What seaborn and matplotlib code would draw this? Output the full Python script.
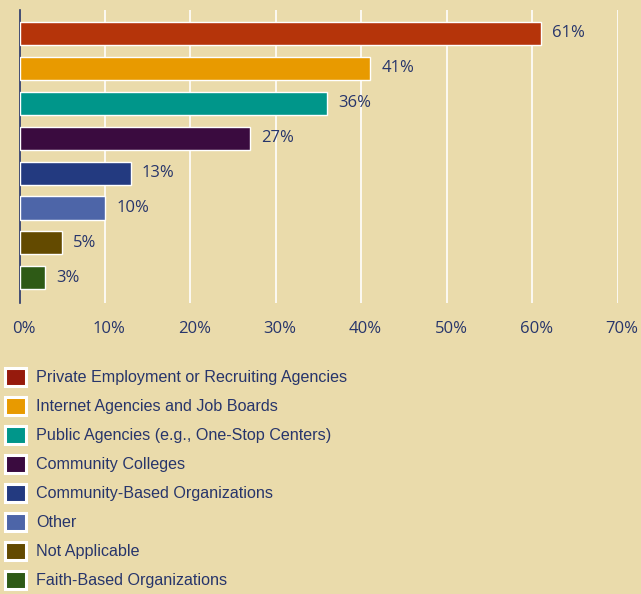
import matplotlib
matplotlib.use("Agg")
import matplotlib.pyplot as plt
import matplotlib.transforms as mtransforms
from matplotlib.patches import Patch
import pandas as pd
import seaborn as sns

# chart data
categories = [
    "Private Employment or Recruiting Agencies",
    "Internet Agencies and Job Boards",
    "Public Agencies (e.g., One-Stop Centers)",
    "Community Colleges",
    "Community-Based Organizations",
    "Other",
    "Not Applicable",
    "Faith-Based Organizations",
]
percentages = [61, 41, 36, 27, 13, 10, 5, 3]
bar_colors = ["#B5340A", "#E89A00", "#00968A", "#3A0B3F",
              "#233A80", "#4D65A8", "#634A00", "#2E5A16"]
legend_colors = ["#961A0C", "#E89A00", "#00968A", "#3A0B3F",
                 "#233A80", "#4D65A8", "#634A00", "#2E5A16"]
xticks = [0, 10, 20, 30, 40, 50, 60, 70]

BG = "#EADBAB"
NAVY = "#27356B"

sns.set_theme(style="white")
plt.rcParams["font.family"] = ["Open Sans", "DejaVu Sans"]

df = pd.DataFrame({"category": categories, "pct": percentages})

fig = plt.figure(figsize=(6.41, 5.94), dpi=100, facecolor=BG)
ax = fig.add_axes([19.5 / 641, 1 - 303 / 594, (618 - 19.5) / 641, 293 / 594])
ax.set_facecolor(BG)

sns.barplot(data=df, y="category", x="pct", hue="category",
            palette=bar_colors, saturation=1, orient="h", width=0.66,
            edgecolor="white", linewidth=1.0, legend=False, ax=ax, zorder=3)

ax.set_xlim(0, 70)
ax.set_ylim(7.72, -0.67)
ax.set_xticks(xticks)
ax.set_xticklabels([f"{t}%" for t in xticks], color=NAVY, fontsize=12)
ax.tick_params(axis="x", length=0, pad=13)
shift = mtransforms.ScaledTranslation(4 / 100, 0, fig.dpi_scale_trans)
for lab in ax.get_xticklabels():
    lab.set_transform(lab.get_transform() + shift)
ax.set_yticks([])
ax.set_xlabel("")
ax.set_ylabel("")
for t in xticks[1:]:
    ax.axvline(t, color="white", linewidth=1.2, zorder=1)
for s in ["top", "right", "bottom"]:
    ax.spines[s].set_visible(False)
ax.spines["left"].set_color(NAVY)
ax.spines["left"].set_linewidth(1.2)

for i, v in enumerate(percentages):
    ax.text(v + 1.3, i, f"{v}%", va="center", ha="left",
            color=NAVY, fontsize=12, fontweight="medium")

handles = [Patch(facecolor=c, edgecolor="white", linewidth=2.2) for c in legend_colors]
leg = fig.legend(handles, categories, loc="upper left",
                 bbox_to_anchor=(5 / 641, 1 - 368 / 594),
                 frameon=False, handlelength=1.3, handleheight=1.3,
                 handletextpad=0.65, labelspacing=0.71, borderaxespad=0,
                 borderpad=0,
                 prop={"family": ["Liberation Sans", "DejaVu Sans"], "size": 11.6})
for txt in leg.get_texts():
    txt.set_color(NAVY)

fig.savefig("out.png", dpi=100, facecolor=BG)
